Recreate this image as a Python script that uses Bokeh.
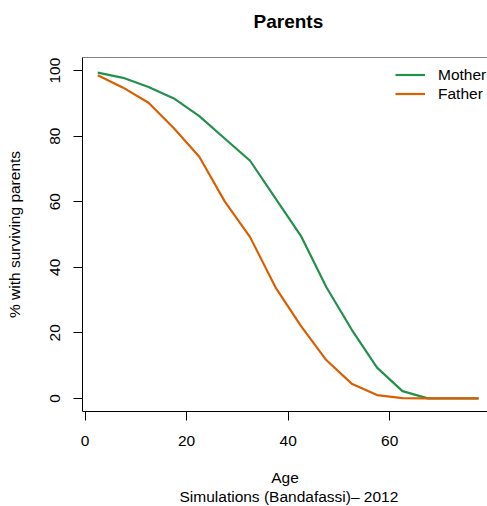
from bokeh.plotting import figure
from bokeh.models import Range1d, FixedTicker, LinearAxis, Label, Legend, LegendItem, Span, Title
from bokeh.embed import file_html
from bokeh.resources import INLINE

# Share of children with a surviving parent, by child's age (5-year groups)
age = [2.5, 7.5, 12.5, 17.5, 22.5, 27.5, 32.5, 37.5, 42.5, 47.5, 52.5, 57.5, 62.5, 67.5, 72.5, 77.5]
mother = [99.4, 97.8, 95.0, 91.5, 86.1, 79.3, 72.5, 61.0, 49.6, 34.0, 21.0, 9.4, 2.2, 0.0, 0.0, 0.0]
father = [98.6, 94.8, 90.2, 82.4, 73.7, 60.1, 49.2, 33.9, 22.1, 11.7, 4.5, 1.0, 0.1, 0.0, 0.0, 0.0]

x_ticks = [0, 20, 40, 60, 80]
y_ticks = [0, 20, 40, 60, 80, 100]

GREEN = "#23904b"
ORANGE = "#d95f02"
FONT = "Liberation Sans"
FS = "15.5px"

p = figure(width=487, height=506, output_backend="svg", toolbar_location=None,
           x_range=Range1d(-0.5, 79.25), y_range=Range1d(-4, 104),
           x_axis_location=None, y_axis_location=None,
           min_border_left=82, min_border_top=57, min_border_bottom=94,
           min_border_right=0)
p.outline_line_color = None
p.grid.visible = False
p.background_fill_color = "white"
p.border_fill_color = "white"

# main title, shifted so it centres on x = 40; the empty second line lifts it up
p.title.text = "Parents\n"
p.title.align = "left"
p.title.offset = 171
p.title.standoff = 9
p.title.text_font = FONT
p.title.text_font_size = "19px"
p.title.text_font_style = "bold"
p.title.text_color = "black"

lm = p.line(age, mother, line_color=GREEN, line_width=2.2)
lf = p.line(age, father, line_color=ORANGE, line_width=2.2)

def style_axis(ax):
    ax.axis_line_color = "black"
    ax.axis_line_width = 1
    ax.major_tick_line_color = "black"
    ax.major_tick_out = 9
    ax.major_tick_in = 0
    ax.minor_tick_line_color = None
    ax.major_label_text_font = FONT
    ax.major_label_text_font_size = FS
    ax.major_label_text_color = "black"
    ax.axis_label_text_font = FONT
    ax.axis_label_text_font_size = FS
    ax.axis_label_text_font_style = "normal"
    ax.axis_label_text_color = "black"

xaxis = LinearAxis(ticker=FixedTicker(ticks=x_ticks), axis_label="Age")
style_axis(xaxis)
xaxis.major_label_standoff = 15
xaxis.axis_label_standoff = 20
p.add_layout(xaxis, "below")

yaxis = LinearAxis(ticker=FixedTicker(ticks=y_ticks), axis_label="% with surviving parents")
style_axis(yaxis)
yaxis.major_label_orientation = "vertical"
yaxis.major_label_standoff = 13
yaxis.axis_label_standoff = 25
p.add_layout(yaxis, "left")

# source line under the axis title, centred under x = 40
sub_title = Title(text="Simulations (Bandafassi)\u2013 2012", align="left", offset=97,
                  vertical_align="top", standoff=-1, text_font=FONT, text_font_size=FS,
                  text_font_style="normal", text_color="black")
p.add_layout(sub_title, "below")

# top edge of the box
p.add_layout(Span(location=104, dimension="width", line_color="black", line_width=1))

# last x tick label sits past the right edge of the frame
p.add_layout(Label(x=x_ticks[-1], y=-30, x_units="data", y_units="screen",
                   text=str(x_ticks[-1]), text_align="center", text_baseline="middle",
                   text_font=FONT, text_font_size=FS, text_color="black"))

legend = Legend(items=[LegendItem(label="Mother", renderers=[lm]),
                       LegendItem(label="Father", renderers=[lf])],
                location=(313, 308), orientation="vertical",
                glyph_width=30, glyph_height=19, label_height=19, spacing=0,
                label_standoff=13, padding=0, margin=0,
                border_line_color=None, background_fill_alpha=0,
                label_text_font=FONT, label_text_font_size=FS, label_text_color="black")
p.add_layout(legend, "center")

open("out.html", "w").write(file_html(p, INLINE))
